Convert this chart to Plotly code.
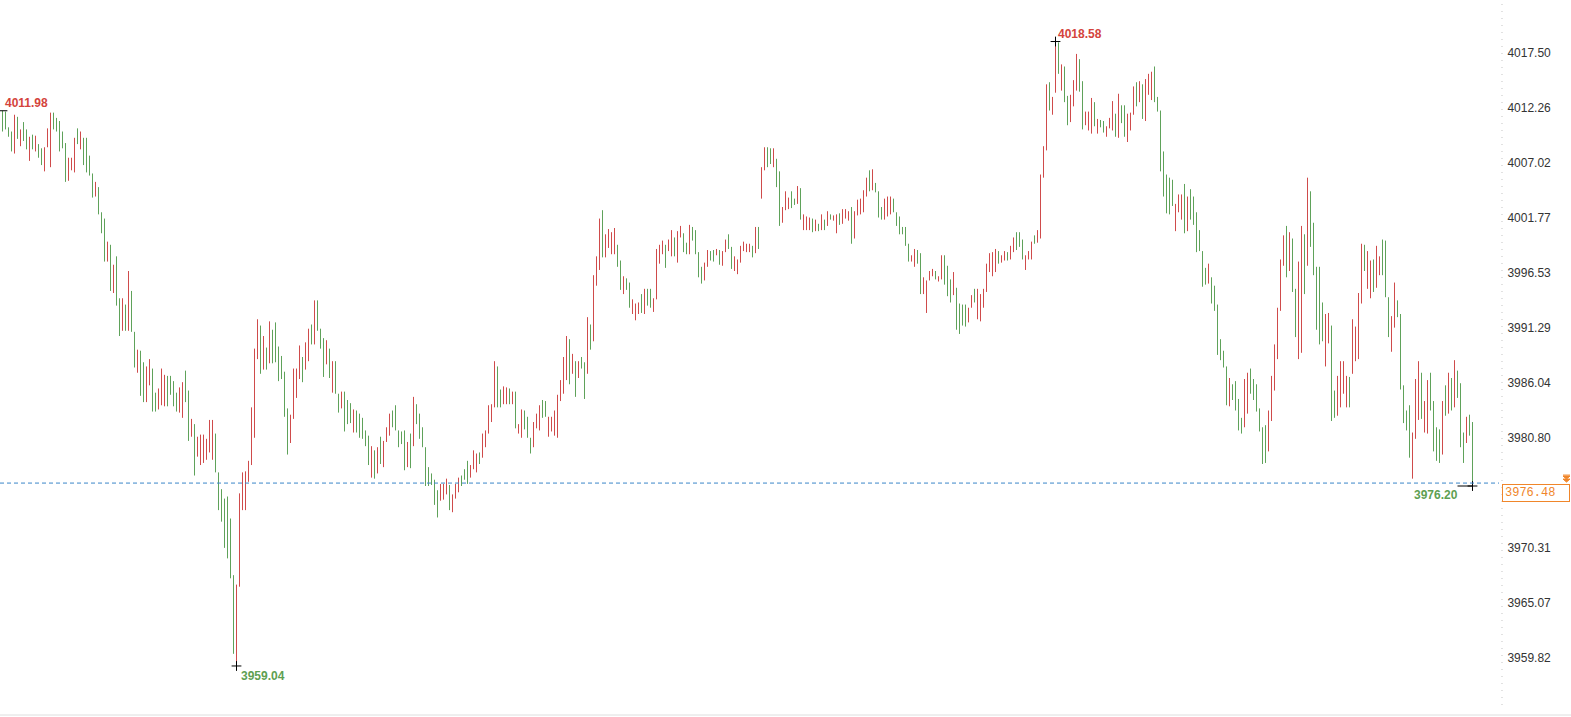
import plotly.graph_objects as go

# ---- data ----
HIGH = [
4011.98,4011.9,4010.4,4010.0,4011.6,4011.4,4010.2,4010.9,4010.2,4009.5,
4009.7,4009.6,4008.8,4008.4,4008.5,4010.3,4011.8,4011.8,4011.3,4011.0,
4010.0,4008.9,4007.5,4007.5,4009.4,4010.3,4010.0,4009.4,4009.4,4007.7,
4006.0,4005.2,4004.7,4002.3,4001.7,3999.5,3999.2,3997.3,3998.1,3994.1,
3994.1,3993.5,3996.7,3994.8,3990.9,3989.2,3989.1,3988.0,3987.6,3988.3,
3987.4,3985.1,3985.5,3987.4,3986.8,3986.7,3986.7,3986.2,3985.1,3985.6,
3986.1,3987.2,3985.3,3982.6,3982.1,3980.9,3981.1,3981.1,3980.7,3982.5,
3982.5,3981.2,3977.5,3975.9,3975.0,3975.2,3973.1,3967.7,3966.8,3975.5,
3977.5,3977.6,3978.6,3983.7,3989.3,3992.1,3991.5,3990.5,3989.4,3991.9,
3991.1,3991.8,3989.5,3988.6,3987.1,3983.6,3983.0,3987.4,3987.4,3989.6,
3988.5,3989.9,3991.2,3991.6,3993.9,3993.9,3991.2,3990.3,3990.1,3989.3,
3988.1,3988.1,3985.0,3985.2,3985.2,3984.4,3984.1,3983.5,3983.4,3983.1,
3982.7,3981.5,3981.0,3980.0,3979.6,3979.9,3980.9,3980.5,3981.8,3983.1,
3983.4,3983.9,3981.5,3981.4,3981.5,3980.4,3981.2,3984.7,3984.0,3983.1,
3981.8,3979.9,3978.0,3977.4,3976.8,3975.8,3976.4,3976.4,3976.9,3976.3,
3975.4,3976.4,3977.0,3977.2,3977.8,3978.6,3978.2,3979.6,3979.3,3979.4,
3981.2,3981.5,3983.9,3984.0,3988.1,3987.6,3985.4,3985.7,3985.6,3985.5,
3985.2,3985.2,3982.1,3983.5,3983.4,3982.8,3980.8,3982.3,3983.1,3983.9,
3984.4,3984.3,3982.8,3982.8,3983.4,3984.9,3986.3,3988.5,3990.5,3990.2,
3988.8,3988.1,3988.1,3988.5,3988.0,3992.3,3991.6,3996.3,3998.1,4001.7,
4002.5,4000.2,4000.7,4000.4,4000.8,3999.2,3997.7,3996.2,3996.0,3995.6,
3994.0,3993.6,3993.7,3994.5,3995.0,3995.0,3995.0,3994.1,3998.8,3999.2,
3999.6,3999.2,3999.7,4000.6,3999.9,4000.5,4001.0,4000.3,3999.4,4001.1,
4000.9,4000.6,3998.5,3997.1,3997.5,3998.7,3998.6,3998.7,3998.8,3998.7,
3998.6,3999.7,4000.2,3999.0,3998.1,3997.8,3999.1,3999.5,3999.3,3999.3,
3999.1,4000.9,4000.9,4006.6,4008.5,4008.5,4008.4,4008.4,4007.4,4006.2,
4002.8,4004.3,4003.7,4004.3,4003.6,4004.8,4004.6,4002.1,4001.9,4001.8,
4001.7,4001.6,4001.2,4002.1,4001.6,4002.4,4002.1,4002.0,4002.1,4002.2,
4002.6,4002.6,4002.4,4002.8,4002.4,4003.5,4003.6,4004.4,4005.6,4006.3,
4006.4,4005.1,4004.3,4002.8,4003.6,4003.8,4003.8,4003.6,4002.3,4001.9,
4000.9,4000.9,3999.3,3998.2,3998.8,3998.7,3998.4,3996.1,3995.8,3996.7,
3996.9,3996.7,3996.2,3998.2,3998.2,3997.2,3995.9,3996.6,3995.1,3993.6,
3993.5,3993.5,3993.2,3994.4,3995.0,3995.0,3994.5,3995.0,3997.4,3998.4,
3998.5,3998.8,3998.6,3998.2,3998.6,3998.5,3999.1,3999.9,4000.4,4000.4,
3999.7,3998.2,3998.6,3999.5,4000.1,4000.6,4005.9,4008.6,4014.5,4014.7,
4013.3,4018.58,4018.5,4016.4,4016.2,4013.4,4013.5,4014.9,4017.4,4016.9,
4014.8,4011.9,4011.9,4013.2,4012.8,4011.2,4011.1,4011.0,4010.5,4011.3,
4012.9,4011.7,4013.6,4012.5,4012.5,4011.7,4011.8,4014.3,4014.7,4014.8,
4014.5,4015.0,4015.5,4015.7,4016.2,4013.3,4012.0,4008.1,4005.9,4005.6,
4005.4,4003.1,4004.0,4004.0,4005.0,4003.8,4004.5,4003.8,4002.3,4000.6,
3998.6,3997.0,3997.4,3996.1,3995.3,3993.5,3990.2,3989.1,3987.6,3986.5,
3985.9,3986.2,3984.5,3982.7,3986.4,3987.0,3987.4,3986.4,3985.9,3983.6,
3981.8,3982.0,3983.4,3986.7,3989.7,3993.2,3997.8,4000.1,4001.0,4000.4,
3999.8,3995.0,3997.6,4001.0,4000.2,4005.6,4004.3,4001.3,3997.1,3997.1,
3993.7,3992.6,3992.7,3991.5,3985.3,3986.7,3988.1,3988.1,3986.7,3986.6,
3992.1,3991.4,3994.6,3999.3,3999.2,3998.6,3997.7,3997.8,3999.1,3998.1,
3999.7,3999.6,3994.2,3992.4,3995.6,3993.9,3992.6,3985.8,3983.4,3983.9,
3981.3,3986.4,3988.1,3987.0,3984.3,3986.3,3987.0,3984.3,3981.8,3981.6,
3984.3,3985.8,3987.0,3986.5,3988.2,3987.2,3986.0,3981.3,3982.8,3983.0,
3982.3,
]
LOW = [
4010.0,4010.2,4009.5,4008.1,4007.9,4009.3,4008.6,4009.1,4008.3,4007.2,
4008.3,4008.1,4007.5,4006.8,4006.2,4008.5,4006.6,4010.2,4010.0,4008.1,
4008.4,4005.2,4005.3,4006.3,4006.1,4008.8,4008.3,4006.8,4006.1,4005.8,
4003.7,4003.8,4002.1,4000.3,3997.6,3997.6,3994.8,3994.6,3993.4,3990.5,
3991.0,3991.0,3991.0,3990.9,3987.5,3987.0,3984.8,3984.2,3984.2,3985.8,
3983.3,3983.3,3983.5,3983.9,3983.8,3983.8,3984.9,3983.8,3983.3,3983.2,
3982.7,3984.2,3980.5,3980.9,3977.2,3979.0,3978.2,3978.4,3978.7,3979.4,
3978.7,3977.5,3973.9,3972.8,3970.3,3969.3,3967.4,3960.2,3959.04,3966.6,
3973.9,3973.9,3976.6,3978.2,3980.8,3988.3,3986.9,3987.3,3987.3,3987.9,
3987.9,3988.0,3986.2,3986.4,3982.8,3979.2,3980.3,3982.6,3984.6,3986.4,
3986.1,3987.3,3988.1,3989.7,3989.7,3991.0,3989.3,3986.6,3987.8,3986.5,
3985.1,3985.0,3983.2,3983.6,3981.4,3982.1,3982.2,3981.3,3981.3,3980.8,
3980.7,3980.0,3978.2,3977.0,3976.9,3977.4,3978.3,3978.0,3980.4,3981.0,
3981.8,3981.5,3979.9,3980.2,3977.7,3978.0,3977.9,3980.0,3982.1,3980.7,
3979.9,3976.2,3976.2,3976.3,3974.4,3973.2,3974.8,3974.9,3975.4,3973.9,
3973.7,3975.0,3975.6,3976.2,3976.8,3976.4,3977.0,3977.8,3977.5,3978.3,
3978.9,3979.9,3981.2,3982.3,3983.7,3983.7,3983.7,3984.0,3984.0,3984.0,
3984.0,3981.7,3981.2,3980.8,3981.6,3980.8,3979.3,3979.9,3981.7,3981.5,
3982.7,3982.8,3980.9,3981.4,3981.0,3980.8,3984.3,3985.0,3986.3,3985.9,
3986.9,3984.7,3986.5,3987.4,3984.5,3986.9,3989.2,3990.0,3995.3,3996.8,
3998.0,3998.0,3998.9,3998.3,3998.3,3997.1,3994.9,3994.5,3994.9,3993.2,
3992.6,3992.0,3992.6,3992.7,3992.6,3993.4,3993.2,3992.8,3994.0,3997.4,
3998.3,3997.0,3998.6,3998.1,3998.1,3997.5,3999.9,3998.5,3998.3,3998.3,
3999.6,3998.3,3996.1,3995.5,3995.8,3997.1,3997.7,3997.6,3998.2,3997.3,
3997.2,3998.5,3998.8,3996.9,3996.7,3996.4,3997.5,3998.6,3998.5,3998.5,
3998.0,3998.4,3998.8,4003.6,4006.3,4006.6,4006.9,4006.6,4004.7,4001.0,
4001.3,4002.5,4002.6,4002.7,4003.0,4003.1,4001.6,4000.6,4000.6,4000.6,
4000.4,4000.5,4000.5,4000.6,4000.6,4001.0,4001.6,4001.5,4000.3,4001.1,
4001.2,4001.7,4001.5,3999.3,3999.8,4002.0,4002.1,4002.3,4003.8,4004.3,
4004.4,4004.2,4001.8,4001.6,4001.6,4001.9,4002.1,4002.3,4001.0,4000.2,
4000.2,3999.1,3997.6,3997.6,3997.1,3997.4,3994.5,3994.5,3992.7,3995.8,
3996.2,3995.9,3995.7,3995.9,3995.4,3994.3,3993.7,3994.4,3991.1,3990.7,
3991.5,3991.4,3991.8,3993.2,3993.7,3992.1,3991.9,3993.2,3994.7,3996.6,
3996.2,3996.6,3997.4,3997.5,3997.7,3997.7,3997.8,3998.5,3998.7,3999.0,
3997.8,3996.8,3997.8,3997.8,3999.3,3999.4,3999.8,4005.6,4008.2,4012.0,
4011.6,4013.7,4015.5,4013.9,4012.8,4010.6,4010.9,4012.4,4013.9,4013.8,
4010.2,4010.6,4010.1,4009.8,4010.5,4009.8,4010.4,4009.9,4009.5,4010.3,
4010.1,4009.5,4009.4,4010.8,4009.5,4009.0,4010.1,4011.6,4012.4,4012.8,
4011.2,4011.0,4013.5,4013.0,4012.8,4011.9,4006.2,4003.8,4002.2,4002.1,
4002.9,4000.5,4002.3,4001.6,4000.3,4000.5,4001.6,4001.1,3998.5,3998.6,
3995.2,3995.4,3995.5,3993.6,3992.9,3988.7,3988.2,3987.5,3983.9,3983.8,
3984.4,3983.4,3981.5,3981.2,3981.8,3983.1,3985.0,3984.4,3983.3,3981.4,
3978.3,3978.4,3979.5,3982.4,3985.3,3988.3,3992.9,3997.2,3996.1,3996.7,
3994.7,3990.4,3988.3,3988.9,3994.5,3997.2,3999.0,3996.3,3991.1,3989.7,
3990.0,3987.6,3989.8,3982.4,3982.7,3982.9,3983.7,3985.0,3983.7,3983.7,
3986.9,3988.1,3988.3,3993.6,3996.7,3995.0,3994.1,3994.7,3995.1,3996.3,
3996.3,3994.2,3990.4,3989.0,3991.3,3992.3,3985.4,3982.2,3981.5,3978.9,
3976.9,3980.7,3982.5,3982.6,3981.3,3981.2,3983.4,3979.5,3978.6,3978.4,
3979.2,3982.9,3983.1,3983.4,3983.7,3984.6,3979.9,3978.4,3980.3,3981.0,
3976.20,
]
# r = rising bar (red), g = falling bar (green)
DIRECTION = (
    "ggggrgrggr" "grggrrrggg" "ggrrrgrggg" "grgggrgrgg" "rgrggrggrr"
    "ggrrrggggr" "rggrgrrrrr" "rgggggggrr" "rrrrrrgrgr" "ggggggrrrr"
    "grrgrgggrg" "rggrgggrgg" "gggrgrgrrr" "gggggrgrgg" "ggggggrrrg"
    "rrrgggrrrg" "rrrrrggrrg" "rgrrgggrrr" "ggrrrrrrrg" "rgrggrgrrr"
    "grrrrggrgg" "rrrgrggrrr" "rgrrgrrggr" "ggggrrggrg" "rrggrrrrrr"
    "grgrrggrgg" "rrrggrgrrr" "grgrgrgrrg" "rrrgrrrrrg" "rgggrrrggg"
    "gggrrggrrr" "rgrrgggrgg" "ggrrgrrrrr" "rrgrrgrrgg" "grrrgrrrrg"
    "rrgrggrrrg" "grrrgrggrr" "rgrggrrrgr" "grrrgggggg" "grrrgrgggg"
    "ggrggggggr" "ggggrrgggg" "ggrrrrrrgr" "ggrrgrgggg" "grrggrrrrg"
    "rrrrgrrgrr" "gggrrggggg" "rrrgrrgggg" "rgrgrgggrg" "g"
)
LAST_PRICE = 3976.48
Y_TICKS = [4017.50, 4012.26, 4007.02, 4001.77, 3996.53, 3991.29,
           3986.04, 3980.80, 3970.31, 3965.07, 3959.82]
Y_RANGE = [3955.32, 4022.54]

RED = "#cf4b4b"
GREEN = "#5fa25a"
LABEL_RED = "#d4443c"
LABEL_GREEN = "#5e9f52"
ORANGE = "#f0862a"

n = len(HIGH)
idx = list(range(n))

def segs(which):
    xs, ys = [], []
    for i in idx:
        if DIRECTION[i] == which:
            xs += [i, i, None]
            ys += [HIGH[i], LOW[i], None]
    return xs, ys

fig = go.Figure()
for which, col in (("r", RED), ("g", GREEN)):
    xs, ys = segs(which)
    fig.add_trace(go.Scatter(x=xs, y=ys, mode="lines",
                             line=dict(color=col, width=1),
                             hoverinfo="skip", showlegend=False))

# extreme markers
i_max = max(idx, key=lambda i: HIGH[i])
i_min = min(idx, key=lambda i: LOW[i])
i_first, i_last = 0, n - 1
fig.add_trace(go.Scatter(
    x=[i_max, i_min, i_last],
    y=[HIGH[i_max], LOW[i_min], LOW[i_last]],
    mode="markers",
    marker=dict(symbol="cross-thin", size=7, line=dict(color="black", width=1)),
    hoverinfo="skip", showlegend=False))
fig.add_trace(go.Scatter(
    x=[i_first], y=[HIGH[i_first]], mode="markers",
    marker=dict(symbol="line-ew", size=7, line=dict(color="black", width=1)),
    hoverinfo="skip", showlegend=False))
fig.add_trace(go.Scatter(
    x=[i_last - 5, i_last], y=[LOW[i_last], LOW[i_last]], mode="lines",
    line=dict(color="black", width=1), hoverinfo="skip", showlegend=False))

ann = []
lab_font = dict(family="Liberation Sans, Arial, sans-serif", size=12)
ann.append(dict(x=i_first, y=HIGH[i_first], text="<b>%.2f</b>" % HIGH[i_first],
                xanchor="left", yanchor="bottom", xshift=0, yshift=-1,
                showarrow=False, font=dict(lab_font, color=LABEL_RED)))
ann.append(dict(x=i_max, y=HIGH[i_max], text="<b>%.2f</b>" % HIGH[i_max],
                xanchor="left", yanchor="bottom", xshift=0, yshift=-1,
                showarrow=False, font=dict(lab_font, color=LABEL_RED)))
ann.append(dict(x=i_min, y=LOW[i_min], text="<b>%.2f</b>" % LOW[i_min],
                xanchor="left", yanchor="top", xshift=2, yshift=-1,
                showarrow=False, font=dict(lab_font, color=LABEL_GREEN)))
ann.append(dict(x=i_last, y=LOW[i_last], text="<b>%.2f</b>" % LOW[i_last],
                xanchor="right", yanchor="top", xshift=-13, yshift=0,
                showarrow=False, font=dict(lab_font, color=LABEL_GREEN)))
# last price box on the axis
ann.append(dict(x=1, xref="paper", y=LAST_PRICE, text="%.2f" % LAST_PRICE,
                xanchor="left", yanchor="top", xshift=3, yshift=-1,
                showarrow=False, width=62, height=12, align="left",
                font=dict(family="Liberation Mono, monospace", size=12, color=ORANGE),
                bordercolor=ORANGE, borderwidth=1, borderpad=2, bgcolor="white"))

shapes = [
    dict(type="line", xref="paper", x0=0, x1=1, yref="y",
         y0=LAST_PRICE, y1=LAST_PRICE,
         line=dict(color="#3a86c8", width=1, dash="4px,3px")),
    dict(type="line", xref="paper", x0=1.002, x1=1.002, yref="paper", y0=0, y1=1,
         line=dict(color="#c4c4c4", width=1, dash="1px,6px")),
    dict(type="line", xref="paper", x0=0, x1=1.05, yref="paper",
         y0=-0.0142, y1=-0.0142, line=dict(color="#dedede", width=1)),
    # small orange double-arrow icon above the price box
    dict(type="path", xref="paper", xsizemode="pixel", xanchor=1,
         yref="y", ysizemode="pixel", yanchor=LAST_PRICE,
         path="M64,8 L71,8 M64,7 L71,7 L67.5,4 Z M64,4 L71,4 L67.5,1 Z",
         fillcolor=ORANGE, line=dict(color=ORANGE, width=1)),
]

W, H = 1571, 717
ML, MR, MT, MB = 0, 72, 0, 12
plot_w = W - ML - MR
x0 = -0.8333
fig.update_layout(
    width=W, height=H,
    margin=dict(l=ML, r=MR, t=MT, b=MB),
    paper_bgcolor="white", plot_bgcolor="white",
    showlegend=False,
    annotations=ann, shapes=shapes,
    xaxis=dict(range=[x0, x0 + plot_w / 3.0], visible=False, fixedrange=True),
    yaxis=dict(range=Y_RANGE, side="right", showgrid=False, zeroline=False,
               tickvals=Y_TICKS, ticktext=["%.2f" % v for v in Y_TICKS],
               ticks="outside", ticklen=5, tickcolor="rgba(0,0,0,0)",
               tickfont=dict(family="Liberation Sans, Arial, sans-serif",
                             size=12, color="#333333"),
               showline=False),
)
fig.write_html("out.html", config={"displayModeBar": False})
